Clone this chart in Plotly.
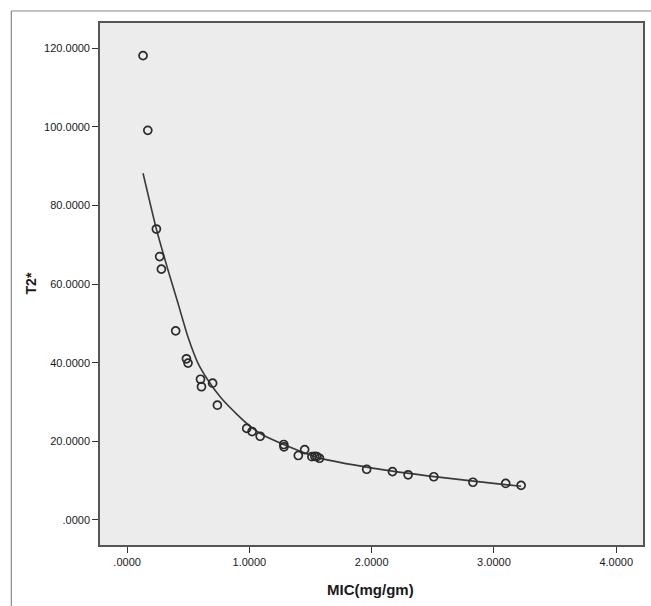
import plotly.graph_objects as go

# Observed data points (MIC in mg/gm, T2* values)
mic = [0.130, 0.169, 0.239, 0.266, 0.280, 0.397, 0.485, 0.498, 0.600, 0.608,
       0.699, 0.738, 0.978, 1.022, 1.088, 1.281, 1.283, 1.400, 1.452, 1.511,
       1.535, 1.552, 1.573, 1.959, 2.170, 2.298, 2.508, 2.828, 3.096, 3.222]
t2 = [118.1, 99.1, 74.0, 67.0, 63.8, 48.1, 41.0, 39.9, 35.8, 33.9,
      34.8, 29.2, 23.3, 22.5, 21.3, 19.2, 18.6, 16.4, 17.9, 16.1,
      16.2, 16.1, 15.7, 12.9, 12.3, 11.5, 11.0, 9.6, 9.3, 8.8]

# Fit line
fit_x = [0.130, 0.239, 0.334, 0.416, 0.497, 0.579, 0.660, 0.769, 0.900, 1.000,
         1.100, 1.280, 1.570, 2.005, 2.548, 3.092, 3.222]
fit_y = [88.2, 74.0, 63.6, 55.1, 46.6, 39.9, 35.6, 31.0, 26.8, 24.0,
         21.8, 19.2, 15.8, 13.2, 10.9, 9.0, 8.6]

x_ticks = [0, 1, 2, 3, 4]
x_tick_text = [".0000", "1.0000", "2.0000", "3.0000", "4.0000"]
y_ticks = [0, 20, 40, 60, 80, 100, 120]
y_tick_text = [".0000", "20.0000", "40.0000", "60.0000", "80.0000", "100.0000", "120.0000"]

fig = go.Figure()
fig.add_trace(go.Scatter(
    x=fit_x, y=fit_y, mode="lines",
    line=dict(color="#3a3a3a", width=1.6, shape="spline", smoothing=0.5),
    hoverinfo="skip", showlegend=False))
fig.add_trace(go.Scatter(
    x=mic, y=t2, mode="markers",
    marker=dict(symbol="circle-open", size=8, color="#2a2a2a",
                line=dict(width=1.7, color="#2a2a2a")),
    showlegend=False))

axis_common = dict(
    showgrid=False, zeroline=False, showline=True, mirror=True,
    linecolor="#555555", linewidth=1.6,
    ticks="outside", ticklen=6, tickwidth=1.4, tickcolor="#333333",
    tickfont=dict(family="Liberation Sans, Arial, sans-serif", size=11, color="#1a1a1a"),
)

fig.update_layout(
    width=651, height=606,
    margin=dict(l=100, r=6, t=23, b=61),
    paper_bgcolor="white", plot_bgcolor="#ececec",
    xaxis=dict(range=[-0.222, 4.219], tickvals=x_ticks, ticktext=x_tick_text, **axis_common),
    yaxis=dict(range=[-6.36, 126.4], tickvals=y_ticks, ticktext=y_tick_text, **axis_common),
    annotations=[
        dict(text="<b>T2*</b>", xref="paper", yref="paper", x=-0.128, y=0.502,
             textangle=-90, showarrow=False, xanchor="center", yanchor="middle",
             font=dict(family="Liberation Sans, Arial, sans-serif", size=14, color="#1a1a1a")),
        dict(text="<b>MIC(mg/gm)</b>", xref="paper", yref="paper", x=0.499, y=-0.086,
             showarrow=False, xanchor="center", yanchor="middle",
             font=dict(family="Liberation Sans, Arial, sans-serif", size=15, color="#1a1a1a")),
    ],
    shapes=[
        dict(type="line", xref="paper", yref="paper", x0=-0.1633, x1=1.05, y0=1.023, y1=1.023,
             line=dict(color="#888888", width=1.2)),
        dict(type="line", xref="paper", yref="paper", x0=-0.1633, x1=-0.1633, y0=1.023, y1=-0.15,
             line=dict(color="#888888", width=1.2)),
    ],
)

fig.write_html("out.html", config={"displayModeBar": False},
               post_script="document.body.style.margin='0';document.body.style.overflow='hidden';")
